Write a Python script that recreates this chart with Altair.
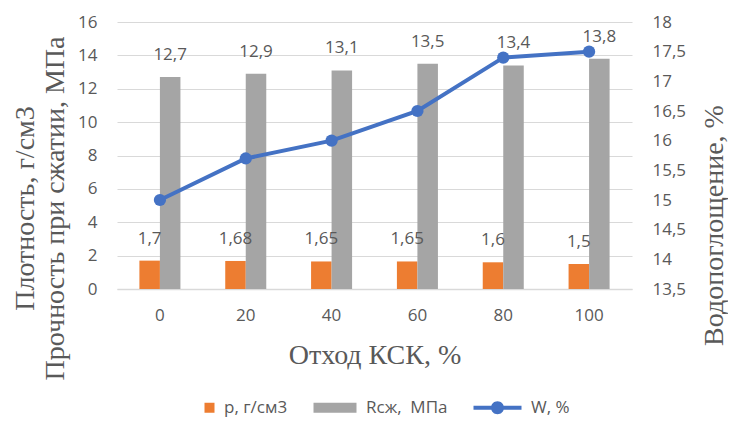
import altair as alt
import pandas as pd

categories = ["0", "20", "40", "60", "80", "100"]
density = [1.7, 1.68, 1.65, 1.65, 1.6, 1.5]
strength = [12.7, 12.9, 13.1, 13.5, 13.4, 13.8]
water = [15.0, 15.7, 16.0, 16.5, 17.4, 17.5]
series_names = ["р, г/см3", "Rсж,\u00a0\u00a0МПа", "W, %"]
colors = ["#ED7D31", "#A5A5A5", "#4472C4"]
left_ticks = [0, 2, 4, 6, 8, 10, 12, 14, 16]
right_ticks = [13.5, 14, 14.5, 15, 15.5, 16, 16.5, 17, 17.5, 18]
legend_paths = [
    "M-1,-1H1V1H-1Z",
    "M-7.6,-1H1V1H-7.6Z",
    "M-8.6,-0.4H1V0.4H-8.6Z M-2.5,0 A1.3,1.3 0 1,1 -5.1,0 A1.3,1.3 0 1,1 -2.5,0Z",
]


def fmt(v):
    return f"{v:g}".replace(".", ",")


bars_df = pd.DataFrame({
    "cat": categories * 2,
    "series": [series_names[0]] * len(categories) + [series_names[1]] * len(categories),
    "value": density + strength,
    "label": [fmt(v) for v in density + strength],
})
line_df = pd.DataFrame({"cat": categories, "w": water})
legend_df = pd.DataFrame({"name": series_names})

TXT = "#595959"
SANS = "Open Sans"
SERIF = "Liberation Serif"
FS = 17
TFS = 28

x_enc = alt.X(
    "cat:N", sort=categories,
    scale=alt.Scale(paddingInner=0.522, paddingOuter=0.261),
    axis=alt.Axis(
        title="Отход КСК, %", labelAngle=0, labelFont=SANS, labelFontSize=FS,
        labelColor=TXT, labelPadding=18, ticks=False, tickSize=0,
        domainColor="#D9D9D9", domainWidth=1.3,
        titleFont=SERIF, titleFontSize=TFS, titleFontWeight="normal", titleColor=TXT,
        titleX=257.5, titleY=74, titleBaseline="alphabetic", titleAlign="center",
    ),
)

xoff = alt.XOffset("series:N", sort=series_names[:2],
                   scale=alt.Scale(paddingInner=0, paddingOuter=0))

y_left = alt.Y(
    "value:Q",
    scale=alt.Scale(domain=[0, 16], nice=False),
    axis=alt.Axis(
        values=left_ticks, title=["Плотность, г/см3", "Прочность при сжатии, МПа"],
        labelFont=SANS, labelFontSize=FS, labelColor=TXT, labelPadding=20,
        ticks=False, tickSize=0, domain=False, grid=True, gridColor="#D9D9D9",
        gridWidth=1.2, titleFont=SERIF, titleFontSize=TFS, titleFontWeight="normal",
        titleColor=TXT, titleAngle=-90, titleX=-84, titleY=186,
        titleBaseline="alphabetic", titleAlign="center", titleLineHeight=30,
    ),
)

bars = alt.Chart(bars_df).mark_bar().encode(
    x=x_enc,
    xOffset=xoff,
    y=y_left,
    color=alt.Color("series:N", scale=alt.Scale(domain=series_names[:2], range=colors[:2]),
                    legend=None),
)

labels = alt.Chart(bars_df).mark_text(
    dy=-22, baseline="middle", font=SANS, fontSize=FS, color=TXT
).encode(
    x=x_enc,
    xOffset=xoff,
    y=y_left,
    text="label:N",
)

line = alt.Chart(line_df).mark_line(
    color=colors[2], strokeWidth=4,
    point=alt.OverlayMarkDef(filled=True, size=150, color=colors[2]),
).encode(
    x=x_enc,
    y=alt.Y(
        "w:Q",
        scale=alt.Scale(domain=[13.5, 18], nice=False, zero=False),
        axis=alt.Axis(
            orient="right", values=right_ticks, title="Водопоглощение, %",
            labelExpr="replace(format(datum.value, '.1~f'), '.', ',')",
            labelFont=SANS, labelFontSize=FS, labelColor=TXT, labelPadding=20,
            ticks=False, tickSize=0, domain=False, grid=False,
            titleFont=SERIF, titleFontSize=TFS, titleFontWeight="normal",
            titleColor=TXT, titleAngle=-90, titleX=90, titleY=203,
            titleBaseline="alphabetic", titleAlign="center",
        ),
    ),
)

leg = alt.Legend(
    orient="none", legendX=84, legendY=377, direction="horizontal", title=None,
    labelFont=SANS, labelFontSize=FS, labelColor=TXT, symbolSize=100,
    symbolStrokeWidth=0, labelOffset=6, columnPadding=25, padding=0,
)

legend_layer = alt.Chart(legend_df).transform_filter("false").mark_point(
    filled=True, opacity=1
).encode(
    fill=alt.Fill("name:N", scale=alt.Scale(domain=series_names, range=colors), legend=leg),
    shape=alt.Shape("name:N", scale=alt.Scale(domain=series_names, range=legend_paths), legend=leg),
)

chart = alt.layer(
    alt.layer(bars, labels),
    line,
    legend_layer,
).resolve_scale(y="independent").properties(
    width=515, height=267,
    autosize=alt.AutoSizeParams(type="none"),
    padding={"left": 109, "top": 14, "right": 96, "bottom": 130},
).configure_view(stroke=None)

chart.save("out.html", embed_options={"renderer": "svg", "actions": False})
